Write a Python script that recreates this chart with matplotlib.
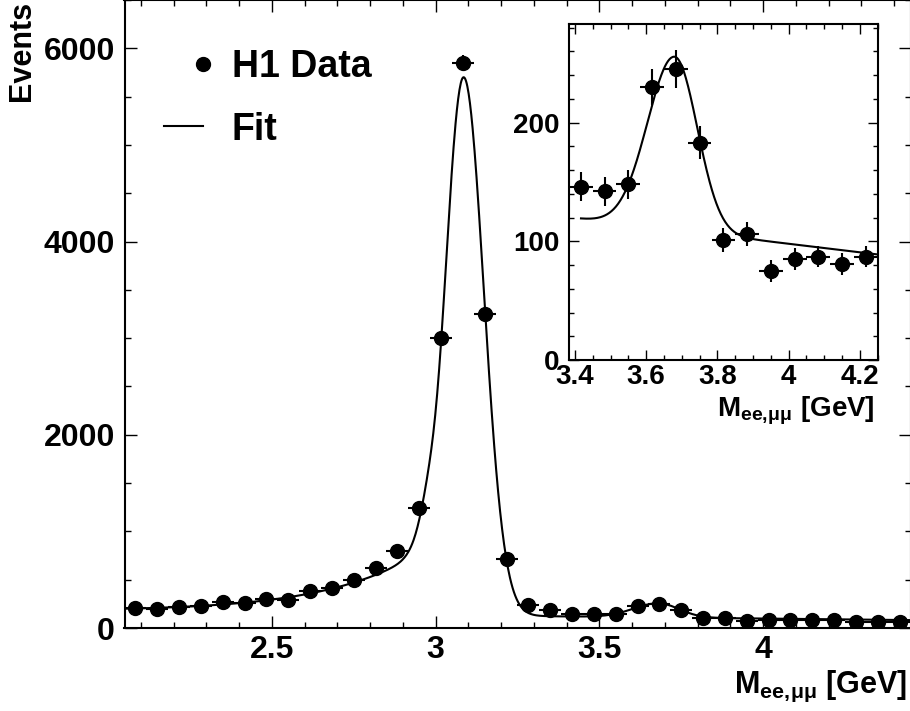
import math
import numpy as np
import matplotlib.pyplot as plt
from matplotlib.lines import Line2D
from matplotlib.legend_handler import HandlerLine2DCompound
from matplotlib.ticker import MultipleLocator

plt.rcParams.update({
    'font.family': 'Liberation Sans',
    'font.weight': 'bold',
    'mathtext.fontset': 'custom',
    'mathtext.rm': 'Liberation Sans',
    'mathtext.bf': 'Liberation Sans:bold',
    'mathtext.it': 'Liberation Sans:italic',
    'axes.linewidth': 1.5,
})

# dilepton mass bins, 1/15 GeV wide starting at 2.05 GeV
mass = [2.083, 2.150, 2.217, 2.283, 2.350, 2.417, 2.483, 2.550, 2.617, 2.683,
        2.750, 2.817, 2.883, 2.950, 3.017, 3.083, 3.150, 3.217, 3.283, 3.350,
        3.417, 3.483, 3.550, 3.617, 3.683, 3.750, 3.817, 3.883, 3.950, 4.017,
        4.083, 4.150, 4.217, 4.283, 4.350, 4.417]
events = [210, 197, 221, 228, 269, 255, 300, 290, 386, 417,
          497, 618, 800, 1245, 3000, 5850, 3250, 711, 235, 190,
          146, 142, 148, 230, 245, 183, 101, 106, 75, 85,
          87, 81, 87, 60, 62, 65]
events_err = [14, 14, 15, 15, 16, 16, 17, 17, 20, 20,
              22, 25, 28, 35, 55, 76, 57, 27, 15, 14,
              12, 12, 12, 15, 16, 14, 10, 10, 9, 9,
              9, 9, 9, 8, 8, 8]
half_bin = 1 / 30

# inset shows the psi(2S) region, bins 20..32
inset_lo, inset_hi = 20, 33

# fit: linear background + J/psi + radiative tail + psi(2S)
bkg_at_3p9 = 101.5
bkg_slope = -36.0
jpsi_amp, jpsi_mean, jpsi_sig_lo, jpsi_sig_hi = 5570.0, 3.0855, 0.058, 0.0615
tail_amp, tail_ref, tail_decay = 540.0, 2.90, 0.30
tail_edge, tail_smear = 2.99, 0.02
psi2s_amp, psi2s_mean, psi2s_sig_lo, psi2s_sig_hi = 146.0, 3.68, 0.076, 0.0635

mass_label = r'$\mathbf{M}_{\mathbf{ee,}\!\mathrm{\mu\mu}}$ [GeV]'

erfc = np.vectorize(math.erfc)


def bifur_gauss(x, amp, mean, sig_lo, sig_hi):
    sig = np.where(x < mean, sig_lo, sig_hi)
    return amp * np.exp(-0.5 * ((x - mean) / sig) ** 2)


def fit_func(x):
    bkg = bkg_at_3p9 + bkg_slope * (x - 3.9)
    tail = tail_amp * np.exp((x - tail_ref) / tail_decay) * 0.5 * erfc((x - tail_edge) / (math.sqrt(2) * tail_smear))
    return (bkg + tail
            + bifur_gauss(x, jpsi_amp, jpsi_mean, jpsi_sig_lo, jpsi_sig_hi)
            + bifur_gauss(x, psi2s_amp, psi2s_mean, psi2s_sig_lo, psi2s_sig_hi))


class DotAtEnd(HandlerLine2DCompound):
    # put the legend marker at the right end of the handle
    def get_xdata(self, legend, xdescent, ydescent, width, height, fontsize):
        xdata, _ = super().get_xdata(legend, xdescent, ydescent, width, height, fontsize)
        return xdata, [-xdescent + width]


def style_axis(ax, xmaj, xmin, ymaj, ymin, size):
    ax.xaxis.set_major_locator(MultipleLocator(xmaj))
    ax.xaxis.set_minor_locator(MultipleLocator(xmin))
    ax.yaxis.set_major_locator(MultipleLocator(ymaj))
    ax.yaxis.set_minor_locator(MultipleLocator(ymin))
    ax.tick_params(which='both', direction='in', top=True, right=True, labelsize=size, width=1.0)
    ax.tick_params(which='major', length=8.5)
    ax.tick_params(which='minor', length=4.3)
    ax.tick_params(axis='y', pad=7)
    ax.tick_params(axis='x', pad=5)
    ax.xaxis.set_major_formatter(plt.FuncFormatter(lambda v, p: f'{v:g}'))


fig = plt.figure(figsize=(9.1, 7.11), dpi=100)
ax = fig.add_axes([124.5 / 910, 83 / 711, 786 / 910, 628 / 711])

xs = np.linspace(2.05, 4.45, 1200)
ax.plot(xs, fit_func(xs), color='black', lw=1.5, zorder=2)
ax.errorbar(mass, events, yerr=events_err, xerr=half_bin, fmt='o', color='black',
            ms=10, elinewidth=1.5, capsize=0, zorder=3)
ax.set_xlim(2.05, 4.45)
ax.set_ylim(0, 6500)
style_axis(ax, 0.5, 0.1, 2000, 500, 23)

handles = [Line2D([], [], marker='o', ls='none', color='black', ms=10),
           Line2D([], [], color='black', lw=1.5)]
ax.legend(handles, ['H1 Data', 'Fit'], loc='upper left', bbox_to_anchor=(0.050, 0.922),
          frameon=False, fontsize=27, handlelength=1.04, handletextpad=0.77,
          labelspacing=0.71, borderpad=0, borderaxespad=0,
          handler_map={handles[0]: DotAtEnd()})

fig.text(0.024, 0.999, 'Events', rotation=90, ha='center', va='top', fontsize=22)
fig.text(0.997, 18 / 711, mass_label, ha='right', va='baseline', fontsize=22)

# inset: psi(2S) region
axin = fig.add_axes([569 / 910, 351 / 711, 308.7 / 910, 336 / 711])
xi = np.linspace(mass[inset_lo], 4.25, 400)
axin.plot(xi, fit_func(xi), color='black', lw=1.5, zorder=2)
axin.errorbar(mass[inset_lo:inset_hi], events[inset_lo:inset_hi],
              yerr=events_err[inset_lo:inset_hi], xerr=half_bin, fmt='o', color='black',
              ms=10, elinewidth=1.5, capsize=0, zorder=3)
axin.set_xlim(3.38333, 4.25)
axin.set_ylim(0, 283)
style_axis(axin, 0.2, 0.05, 100, 20, 20)
axin.tick_params(which='major', length=7.5)
axin.tick_params(which='minor', length=3.8)
axin.tick_params(axis='x', pad=3)
fig.text(875 / 910, (711 - 416.7) / 711, mass_label, ha='right', va='baseline', fontsize=20)

fig.savefig('out.png', dpi=100)
